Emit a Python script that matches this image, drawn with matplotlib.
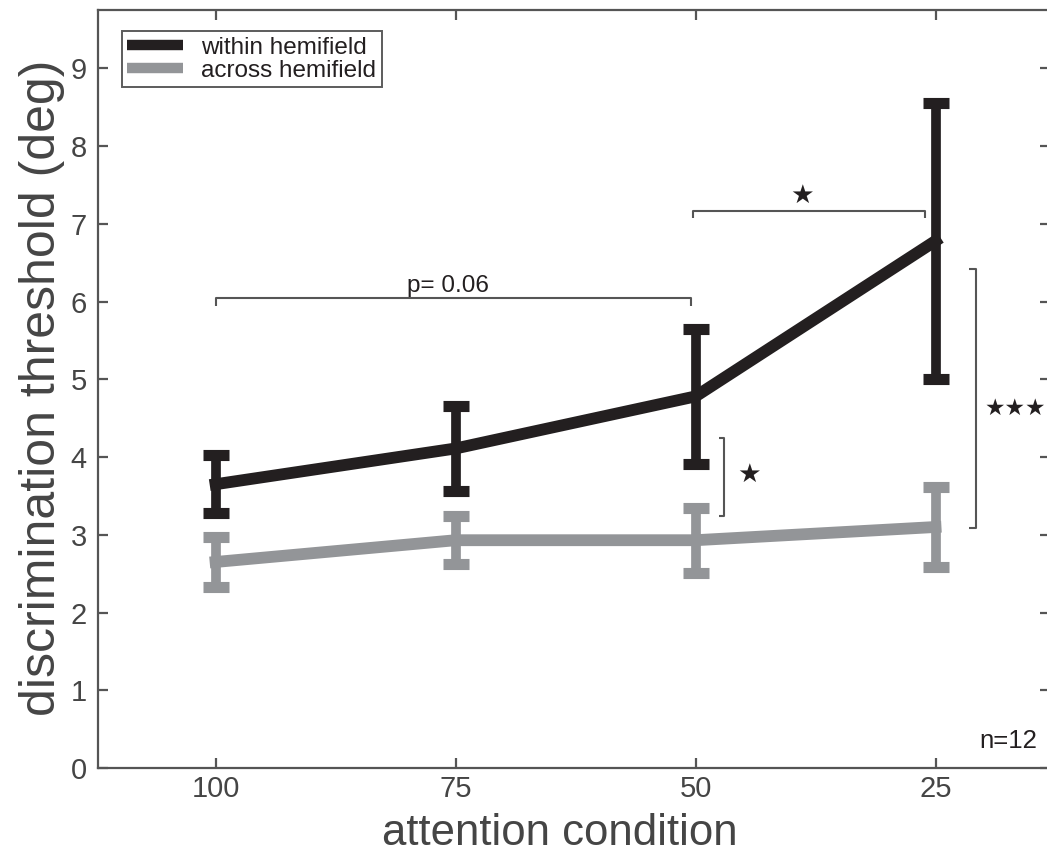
import matplotlib
matplotlib.use("Agg")
import matplotlib.pyplot as plt
from matplotlib.lines import Line2D
import numpy as np

conditions = ["100", "75", "50", "25"]
within_mean = [3.65, 4.11, 4.78, 6.78]
within_err = [0.37, 0.55, 0.87, 1.77]
across_mean = [2.65, 2.93, 2.93, 3.10]
across_err = [0.32, 0.31, 0.42, 0.52]

black = "#231f20"
gray = "#939598"
axcol = "#555555"
txtcol = "#454545"

plain = ["Liberation Sans", "DejaVu Sans"]
plt.rcParams["font.family"] = plain

fig = plt.figure(figsize=(10.47, 8.52), dpi=100)
ax = fig.add_axes([98 / 1047, 84 / 852, 952 / 1047, 758 / 852])

x = np.arange(len(conditions))

ax.errorbar(x, across_mean, yerr=across_err, color=gray, lw=8.5,
            elinewidth=7, capsize=9.5, capthick=8, zorder=2)
ax.errorbar(x, within_mean, yerr=within_err, color=black, lw=8.5,
            elinewidth=7, capsize=9.5, capthick=8, zorder=3)

ax.set_xlim(-0.49, 3.477)
ax.set_ylim(0, 9.75)
ax.set_xticks(x)
ax.set_xticklabels(conditions)
ax.set_yticks(range(10))

for s in ax.spines.values():
    s.set_color(axcol)
    s.set_linewidth(1.6)
ax.tick_params(direction="in", length=7.5, width=1.6, color=axcol,
               top=True, right=True, labelsize=21, labelcolor=txtcol)
ax.tick_params(axis="x", pad=5)
ax.tick_params(axis="y", pad=8)

# axis labels
fig.text(559.5 / 1047, 1 - 845 / 852, "attention condition", ha="center", va="baseline",
         fontsize=31.5, color=txtcol)
fig.text(42 / 1047, 1 - 388 / 852, "discrimination threshold (deg)", ha="center", va="center",
         rotation=90, fontsize=36, color=txtcol)

# legend
handles = [Line2D([], [], color=black, lw=7.5, solid_capstyle="butt"),
           Line2D([], [], color=gray, lw=7.5, solid_capstyle="butt")]
leg = ax.legend(handles, ["within hemifield", "across hemifield"], loc="upper left",
                bbox_to_anchor=(0.0252, 0.972), frameon=True, fancybox=False, fontsize=17.5,
                handlelength=2.3, borderpad=0.22, labelspacing=0.05, handletextpad=0.75,
                borderaxespad=0)
leg.get_frame().set_edgecolor("#333333")
leg.get_frame().set_linewidth(1.4)
for t in leg.get_texts():
    t.set_color(black)

# significance brackets
bk = dict(color=axcol, lw=1.5, solid_capstyle="butt")
star_font = ["DejaVu Sans"]
ax.plot([0, 0, 1.98, 1.98], [5.94, 6.04, 6.04, 5.94], **bk)
ax.text(0.97, 6.2, "p= 0.06", ha="center", va="center", fontsize=17.5, color=black)

ax.plot([1.99, 1.99, 2.958, 2.958], [7.07, 7.16, 7.16, 7.07], **bk)
ax.text(2.446, 7.36, "★", ha="center", va="center", fontsize=19, color=black, family=star_font)

ax.plot([2.096, 2.12, 2.12, 2.096], [4.24, 4.24, 3.24, 3.24], **bk)
ax.text(2.225, 3.77, "★", ha="center", va="center", fontsize=19, color=black, family=star_font)

ax.plot([3.14, 3.167, 3.167, 3.14], [6.42, 6.42, 3.09, 3.09], **bk)
ax.text(3.333, 4.63, "★★★", ha="center", va="center", fontsize=16.5, color=black, family=star_font)

ax.text(3.304, 0.35, "n=12", ha="center", va="center", fontsize=18.5, color=black)

fig.savefig("out.png", dpi=100)
